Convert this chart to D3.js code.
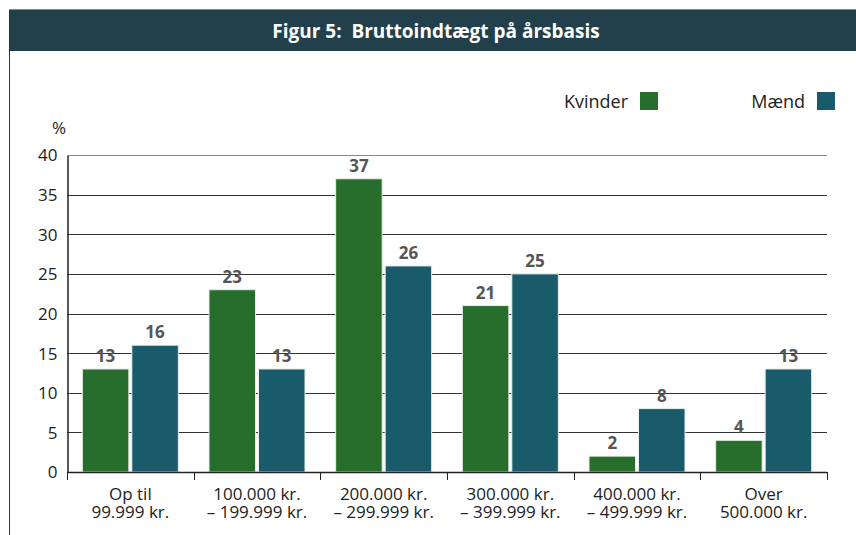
<!DOCTYPE html>
<html>
<head>
<meta charset="utf-8">
<script src="https://cdn.jsdelivr.net/npm/d3@7"></script>
<style>
  body { margin: 0; background: #fff; }
  svg { display: block; font-family: "Open Sans", "Noto Sans", sans-serif; }
</style>
</head>
<body>
<div id="chart"></div>
<script>
// data
const categories = [
  ['Op til', '99.999 kr.'],
  ['100.000 kr.', '– 199.999 kr.'],
  ['200.000 kr.', '– 299.999 kr.'],
  ['300.000 kr.', '– 399.999 kr.'],
  ['400.000 kr.', '– 499.999 kr.'],
  ['Over', '500.000 kr.']
];
const kvinder = [13, 23, 37, 21, 2, 4];
const maend = [16, 13, 26, 25, 8, 13];
const seriesNames = ['Kvinder', 'Mænd'];
const yTicks = [0, 5, 10, 15, 20, 25, 30, 35, 40];

const width = 856, height = 535;
const colors = ['#276e2c', '#195a6b'];

const svg = d3.select('#chart').append('svg')
  .attr('width', width)
  .attr('height', height);

// frame and header
svg.append('line').attr('x1', 9).attr('x2', width).attr('y1', 9.5).attr('y2', 9.5)
  .attr('stroke', '#888').attr('stroke-width', 1);
svg.append('rect').attr('x', 9).attr('y', 10).attr('width', width - 9).attr('height', 41)
  .attr('fill', '#22404c');
svg.append('line').attr('x1', 9.5).attr('x2', 9.5).attr('y1', 10).attr('y2', height)
  .attr('stroke', '#333').attr('stroke-width', 1);
svg.append('text')
  .attr('x', 436).attr('y', 38)
  .attr('text-anchor', 'middle')
  .attr('fill', '#fff')
  .attr('font-weight', 'bold')
  .attr('font-size', 19)
  .style('white-space', 'pre')
  .text('Figur 5:  Bruttoindtægt på årsbasis');

// scales
const x0 = d3.scaleBand().domain(d3.range(categories.length)).range([67, 827]);
const x1 = d3.scaleBand().domain([0, 1]).range([0, 96]).paddingInner(0.06);
const y = d3.scaleLinear().domain([0, 40]).range([472, 155]);

// gridlines
svg.append('g').selectAll('line')
  .data(yTicks.filter(d => d > 0))
  .join('line')
  .attr('x1', 67).attr('x2', 827)
  .attr('y1', d => Math.round(y(d)) + 0.5).attr('y2', d => Math.round(y(d)) + 0.5)
  .attr('stroke', d => d === 40 ? '#888' : '#333')
  .attr('stroke-width', 1);

// y axis
const yAxis = svg.append('g')
  .attr('transform', 'translate(67.5,0.5)')
  .call(d3.axisLeft(y).tickValues(yTicks).tickSize(0).tickPadding(10));
yAxis.select('.domain').attr('stroke', '#222').attr('stroke-width', 1.5);
yAxis.selectAll('text').attr('font-size', 17).attr('fill', '#222')
  .attr('font-family', '"Open Sans", "Noto Sans", sans-serif');

svg.append('text').attr('x', 59).attr('y', 134).attr('text-anchor', 'middle')
  .attr('font-size', 17).attr('fill', '#222').text('%');

// bars
const groups = svg.append('g').selectAll('g')
  .data(categories.map((c, i) => ({ i, vals: [kvinder[i], maend[i]] })))
  .join('g')
  .attr('transform', d => `translate(${x0(d.i) + (x0.bandwidth() - 96) / 2},0)`);

groups.selectAll('rect')
  .data(d => d.vals)
  .join('rect')
  .attr('x', (d, j) => x1(j))
  .attr('y', d => y(d))
  .attr('width', x1.bandwidth())
  .attr('height', d => y(0) - y(d))
  .attr('fill', (d, j) => colors[j])
  .attr('stroke', '#e8eee8')
  .attr('stroke-width', 1);

groups.selectAll('text.val')
  .data(d => d.vals)
  .join('text')
  .attr('class', 'val')
  .attr('x', (d, j) => x1(j) + x1.bandwidth() / 2)
  .attr('y', d => y(d) - 7)
  .attr('text-anchor', 'middle')
  .attr('font-size', 17)
  .attr('font-weight', 'bold')
  .attr('fill', '#555')
  .text(d => d);

// x axis
svg.append('line').attr('x1', 67).attr('x2', 827).attr('y1', 472.5).attr('y2', 472.5)
  .attr('stroke', '#222').attr('stroke-width', 1.5);
svg.append('g').selectAll('line')
  .data(d3.range(categories.length + 1))
  .join('line')
  .attr('x1', i => Math.round(67 + i * x0.step()) + 0.5)
  .attr('x2', i => Math.round(67 + i * x0.step()) + 0.5)
  .attr('y1', 472).attr('y2', 480)
  .attr('stroke', '#222').attr('stroke-width', 1);

// two-line category labels
const labelRows = [0, 1];
labelRows.forEach(k => {
  svg.append('g').selectAll('text')
    .data(categories)
    .join('text')
    .attr('x', (d, i) => x0(i) + x0.bandwidth() / 2)
    .attr('y', 500 + k * 18)
    .attr('text-anchor', 'middle')
    .attr('font-size', 17)
    .attr('fill', '#222')
    .text(d => d[k]);
});

// legend
const legendX = [658, 835];
seriesNames.forEach((name, j) => {
  svg.append('rect').attr('x', legendX[j] - 18).attr('y', 92)
    .attr('width', 18).attr('height', 18).attr('fill', colors[j]);
  svg.append('text').attr('x', legendX[j] - 30).attr('y', 108)
    .attr('text-anchor', 'end').attr('font-size', 18).attr('fill', '#222').text(name);
});
</script>
</body>
</html>
